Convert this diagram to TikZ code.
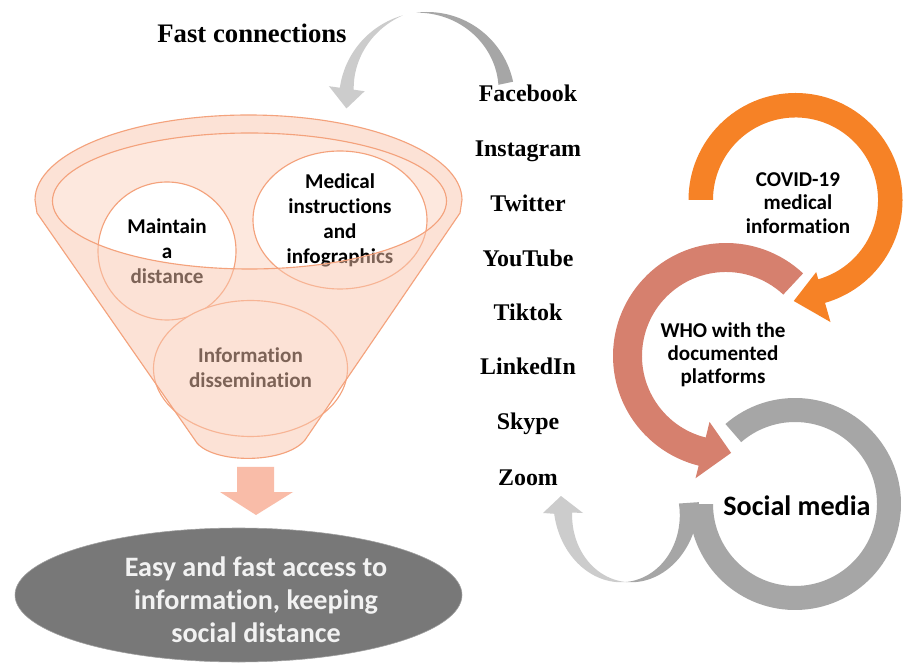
\documentclass[tikz,border=0pt]{standalone}
\usepackage{fontspec}
\setmainfont{Liberation Serif}
\newfontfamily\calibri[Ligatures=NoCommon]{Carlito}
\definecolor{covidorange}{RGB}{246,130,38}
\definecolor{whosalmon}{RGB}{214,128,110}
\definecolor{ringgray}{RGB}{166,166,166}
\definecolor{palegray}{RGB}{204,204,204}
\definecolor{funnelline}{RGB}{244,162,124}
\definecolor{funnelpink}{RGB}{250,198,174}
\definecolor{rimpink}{RGB}{253,232,222}
\definecolor{arrowpink}{RGB}{249,188,168}
\definecolor{accessgray}{RGB}{120,120,120}
\begin{document}
\begin{tikzpicture}[x=0.025cm,y=0.025cm,
    platform/.style={anchor=base,font=\bfseries\fontsize{17}{20}\selectfont},
    bubble/.style={align=center,font=\calibri\bfseries\fontsize{15}{17.8}\selectfont},
    cycletext/.style={align=center,font=\calibri\bfseries\fontsize{15}{16.5}\selectfont},
    bubbleline/.style={draw=funnelline,line width=0.8pt,fill=white},
    funnel/.style={draw=funnelline,line width=0.8pt}]
  \fill[white] (0,0) rectangle (905,664);
  \useasboundingbox (0,0) rectangle (905,664);

  \node[anchor=base,font=\bfseries\fontsize{19}{22}\selectfont] (fast) at (252,621) {Fast connections};
  \begin{scope}[shift={(427,564)}]
    \fill[ringgray] plot[domain=12:97,samples=40] (\x:88)
      -- plot[domain=97:12,samples=40] (\x:{88-15*(97-\x)/85}) -- cycle;
    \fill[palegray] plot[domain=106:172,samples=40] (\x:88)
      -- (172:99) -- (186:81) -- (172:63)
      -- plot[domain=172:106,samples=40] (\x:{88-14*(\x-106)/66}) -- cycle;
  \end{scope}

  \fill[rimpink] (249.5,463) ellipse[x radius=197,y radius=68];
  \draw[bubbleline] (167,413) circle[radius=69];
  \draw[bubbleline] (340,444) ellipse[x radius=87,y radius=69];
  \draw[bubbleline] (250.5,295.5) ellipse[x radius=97,y radius=68];
  \node[bubble] (maintain) at (167,413) {Maintain\\a\\distance};
  \node[bubble] (medical) at (340,444) {Medical\\instructions\\and\\infographics};
  \node[bubble] (dissemination) at (250.5,296) {Information\\dissemination};
  \fill[funnelpink,fill opacity=0.5,even odd rule]
    (35,464) arc[start angle=180,end angle=0,x radius=213.5,y radius=85]
    -- (460,451) -- (305,224) .. controls (285,200) and (215,200) .. (197,221)
    -- (37,451) -- cycle
    (249.5,463) ellipse[x radius=197,y radius=68];
  \draw[funnel]
    (35,464) arc[start angle=180,end angle=0,x radius=213.5,y radius=85]
    -- (460,451) -- (305,224) .. controls (285,200) and (215,200) .. (197,221)
    -- (37,451) -- cycle;
  \draw[funnel] (249.5,463) ellipse[x radius=197,y radius=68];

  \fill[arrowpink] (237,197) -- (274,197) -- (274,172) -- (293,172)
    -- (256,149) -- (220,172) -- (237,172) -- cycle;
  \draw[accessgray!70!white,fill=accessgray] (238.5,69) ellipse[x radius=223.5,y radius=67];
  \node[align=center,text=white!95!black,
    font=\calibri\bfseries\fontsize{20}{23.5}\selectfont] (access) at (256,64)
    {Easy and fast access to\\information, keeping\\social distance};

  \begin{scope}[platform]
    \draw
      (528,562) node (facebook) {Facebook}
      (528,507) node (instagram) {Instagram}
      (528,452) node (twitter) {Twitter}
      (528,397) node (youtube) {YouTube}
      (528,343) node (tiktok) {Tiktok}
      (528,289) node (linkedin) {LinkedIn}
      (528,234) node (skype) {Skype}
      (528,179) node (zoom) {Zoom};
  \end{scope}

  \begin{scope}[shift={(795.5,464)}]
    \fill[covidorange] (180:107) arc[start angle=180,end angle=-74,radius=107]
      -- (-74:127) -- (-91:101) -- (-74:75)
      -- (-74:82.5) arc[start angle=-74,end angle=180,radius=82.5] -- cycle;
  \end{scope}
  \node[cycletext] (covid) at (798,461) {COVID-19\\medical\\information};

  \begin{scope}[shift={(726,308)}]
    \fill[whosalmon] (47:113) arc[start angle=47,end angle=256,radius=113]
      -- (256:126) -- (273:97) -- (256:68)
      -- (256:84) arc[start angle=256,end angle=47,radius=84] -- cycle;
  \end{scope}
  \node[cycletext] (who) at (723,309) {WHO with the\\documented\\platforms};

  \begin{scope}[shift={(795,160)}]
    \fill[ringgray] (131:106) arc[start angle=131,end angle=-180,radius=106]
      -- (180:82) arc[start angle=-180,end angle=131,radius=82] -- cycle;
  \end{scope}
  \node[font=\calibri\bfseries\fontsize{20}{24}\selectfont] (social) at (797,158) {Social media};

  \begin{scope}[shift={(626,156)}]
    \fill[ringgray] plot[domain=4:-90,samples=40]
        ({(63+10*(\x+90)/94)*cos(\x)},{(74+10*(\x+90)/94)*sin(\x)})
      -- plot[domain=-90:4,samples=40]
        ({(63-10*(\x+90)/94)*cos(\x)},{(74-10*(\x+90)/94)*sin(\x)}) -- cycle;
    \fill[palegray] plot[domain=-90:-176,samples=40]
        ({(63+9*(-90-\x)/86)*cos(\x)},{(74+9*(-90-\x)/86)*sin(\x)})
      -- (-83,-5) -- (-65,12) -- (-43,-5)
      -- plot[domain=-176:-90,samples=40]
        ({(63-9*(-90-\x)/86)*cos(\x)},{(74-9*(-90-\x)/86)*sin(\x)}) -- cycle;
  \end{scope}
\end{tikzpicture}
\end{document}
